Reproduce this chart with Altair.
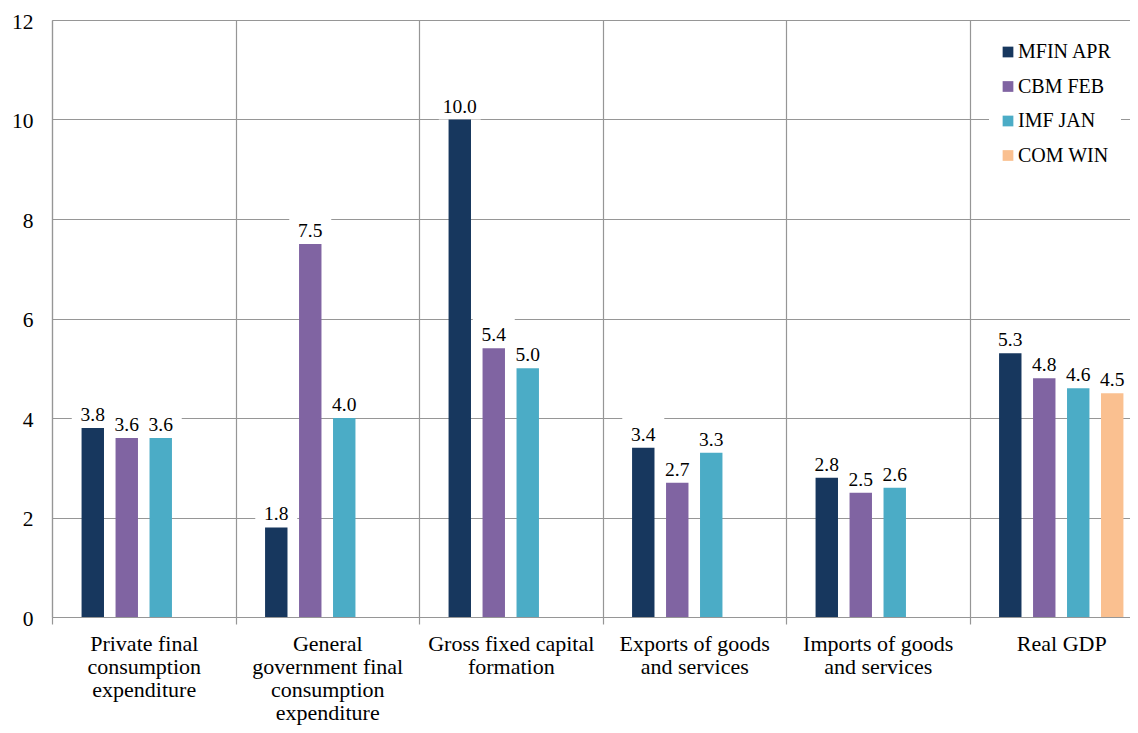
import json
import altair as alt
import pandas as pd

CATEGORIES = [
    "Private final consumption expenditure",
    "General government final consumption expenditure",
    "Gross fixed capital formation",
    "Exports of goods and services",
    "Imports of goods and services",
    "Real GDP",
]
CATEGORY_LINES = [
    ["Private final", "consumption", "expenditure"],
    ["General", "government final", "consumption", "expenditure"],
    ["Gross fixed capital", "formation"],
    ["Exports of goods", "and services"],
    ["Imports of goods", "and services"],
    ["Real GDP"],
]
SERIES = ["MFIN APR", "CBM FEB", "IMF JAN", "COM WIN"]
COLORS = ["#17375E", "#8064A2", "#4BACC6", "#FAC090"]

MFIN_APR = [3.8, 1.8, 10.0, 3.4, 2.8, 5.3]
CBM_FEB = [3.6, 7.5, 5.4, 2.7, 2.5, 4.8]
IMF_JAN = [3.6, 4.0, 5.0, 3.3, 2.6, 4.6]
COM_WIN = [None, None, None, None, None, 4.5]

rows = []
for s, vals in zip(SERIES, [MFIN_APR, CBM_FEB, IMF_JAN, COM_WIN]):
    for c, v in zip(CATEGORIES, vals):
        if v is not None:
            rows.append({"category": c, "series": s, "value": v})
df = pd.DataFrame(rows)

label_expr = ""
for c, lines in zip(CATEGORIES, CATEGORY_LINES):
    label_expr += f"datum.value == {json.dumps(c)} ? {json.dumps(lines)} : "
label_expr += "datum.label"

FONT = "'Liberation Serif', 'Times New Roman', Times, serif"
GRID = "#969696"

x_enc = alt.X(
    "category:N",
    sort=CATEGORIES,
    scale=alt.Scale(paddingInner=0, paddingOuter=0),
    axis=alt.Axis(
        title=None,
        labelAngle=0,
        labelExpr=label_expr,
        labelFont=FONT,
        labelFontSize=22,
        labelColor="black",
        labelLineHeight=23,
        labelBaseline="top",
        labelPadding=9,
        tickSize=7,
        tickColor=GRID,
        tickWidth=1.2,
        tickBand="extent",
        domainColor=GRID,
        domainWidth=1.2,
        grid=True,
        gridColor=GRID,
        gridWidth=1.2,
    ),
)
y_enc = alt.Y(
    "value:Q",
    scale=alt.Scale(domain=[0, 12], nice=False),
    axis=alt.Axis(
        title=None,
        values=[0, 2, 4, 6, 8, 10, 12],
        grid=True,
        gridColor=GRID,
        gridWidth=1.2,
        ticks=False,
        tickSize=0,
        labelPadding=19,
        labelOffset=2,
        labelFont=FONT,
        labelFontSize=21.5,
        labelColor="black",
        domainColor=GRID,
        domainWidth=1.2,
    ),
)
xoff_enc = alt.XOffset(
    "series:N",
    sort=SERIES,
    scale=alt.Scale(domain=SERIES, paddingInner=0.34, paddingOuter=0.87),
)

base = alt.Chart(df)

boxes = base.mark_point(
    shape="M-4.2,-6H4.2V0H-4.2Z",
    filled=True,
    fill="white",
    strokeWidth=0,
    size=100,
    opacity=1,
).encode(x=x_enc, xOffset=xoff_enc, y=y_enc)

bars = base.mark_bar().encode(
    x=x_enc,
    xOffset=xoff_enc,
    y=y_enc,
    color=alt.Color(
        "series:N",
        sort=SERIES,
        scale=alt.Scale(domain=SERIES, range=COLORS),
        legend=alt.Legend(
            title=None,
            orient="none",
            legendX=937,
            legendY=13,
            fillColor="white",
            padding=9,
            symbolType="square",
            symbolSize=115,
            symbolStrokeWidth=0,
            labelFont=FONT,
            labelFontSize=20,
            labelColor="black",
            labelOffset=0,
            rowPadding=14.5,
        ),
    ),
)

labels = base.mark_text(
    font=FONT, fontSize=19.5, dy=-7, baseline="alphabetic", color="black"
).encode(
    x=x_enc,
    xOffset=xoff_enc,
    y=y_enc,
    text=alt.Text("value:Q", format=".1f"),
)

chart = (
    alt.layer(boxes, bars, labels)
    .properties(
        width=1101,
        height=597,
        padding={"left": 44, "top": 12, "right": -23, "bottom": 108},
        autosize="none",
        background="white",
    )
    .configure_view(strokeWidth=0)
)

chart.save("out.html", embed_options={"renderer": "svg", "actions": False})
